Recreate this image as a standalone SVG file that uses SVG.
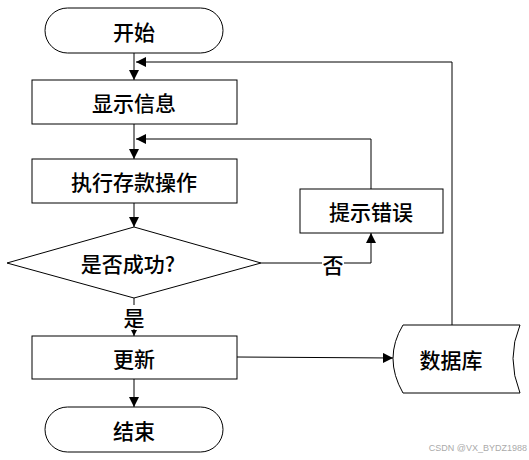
<svg xmlns="http://www.w3.org/2000/svg" width="529" height="460" viewBox="0 0 529 460">
<style>
.s{fill:#fff;stroke:#000;stroke-width:1}
.t{font-family:"Noto Sans CJK SC",sans-serif;font-size:21px;font-weight:500;fill:#000;text-anchor:middle;dominant-baseline:central}
.c{fill:none;stroke:#000;stroke-width:1}
.w{font-family:"Liberation Sans",sans-serif;font-size:9px;fill:#aaa;text-anchor:end}
</style>
<defs>
<marker id="a" viewBox="0 0 10 10" refX="10" refY="5" markerWidth="10" markerHeight="10" markerUnits="userSpaceOnUse" orient="auto"><path d="M0,0L10,5L0,10z" fill="#000"/></marker>
<marker id="b" viewBox="0 0 10 10" refX="10" refY="5" markerWidth="6" markerHeight="6" markerUnits="userSpaceOnUse" orient="auto"><path d="M0,0L10,5L0,10z" fill="#000"/></marker>
</defs>
<rect width="529" height="460" fill="#fff"/>
<g id="connectors">
<path class="c" d="M134,53V80" marker-end="url(#a)"/>
<path class="c" d="M452,325V62H136" marker-end="url(#a)"/>
<path class="c" d="M134,124V159" marker-end="url(#a)"/>
<path class="c" d="M371,189V139H136" marker-end="url(#a)"/>
<path class="c" d="M134,203V227" marker-end="url(#a)"/>
<path class="c" d="M261,263H322M344,263H371V233" marker-end="url(#a)"/>
<path class="c" d="M134,298V305"/>
<path class="c" d="M134,329V336" marker-end="url(#b)"/>
<path class="c" d="M237,357L393,358" marker-end="url(#a)"/>
<path class="c" d="M134,379V407" marker-end="url(#a)"/>
<text class="t" x="333" y="264">否</text>
<text class="t" x="134" y="317">是</text>
</g>
<g id="start"><rect class="s" x="45" y="8" width="178" height="45" rx="22.5"/><text class="t" x="134" y="31">开始</text></g>
<g id="show"><rect class="s" x="32" y="80" width="205" height="44"/><text class="t" x="134" y="102">显示信息</text></g>
<g id="deposit"><rect class="s" x="32" y="159" width="205" height="44"/><text class="t" x="134" y="181">执行存款操作</text></g>
<g id="error"><rect class="s" x="300" y="189" width="143" height="44"/><text class="t" x="371" y="211">提示错误</text></g>
<g id="decision"><path class="s" d="M134,227L261,263L134,298L7,263z"/><text class="t" x="128" y="263">是否成功?</text></g>
<g id="update"><rect class="s" x="32" y="336" width="205" height="43"/><text class="t" x="134" y="358">更新</text></g>
<g id="database"><path class="s" d="M403,325H520Q506,358 520,393H403Q383,358 403,325z"/><text class="t" x="451" y="359">数据库</text></g>
<g id="end"><rect class="s" x="45" y="407" width="178" height="45" rx="22.5"/><text class="t" x="134" y="430">结束</text></g>
<text class="w" x="527" y="451">CSDN @VX_BYDZ1988</text>
</svg>
